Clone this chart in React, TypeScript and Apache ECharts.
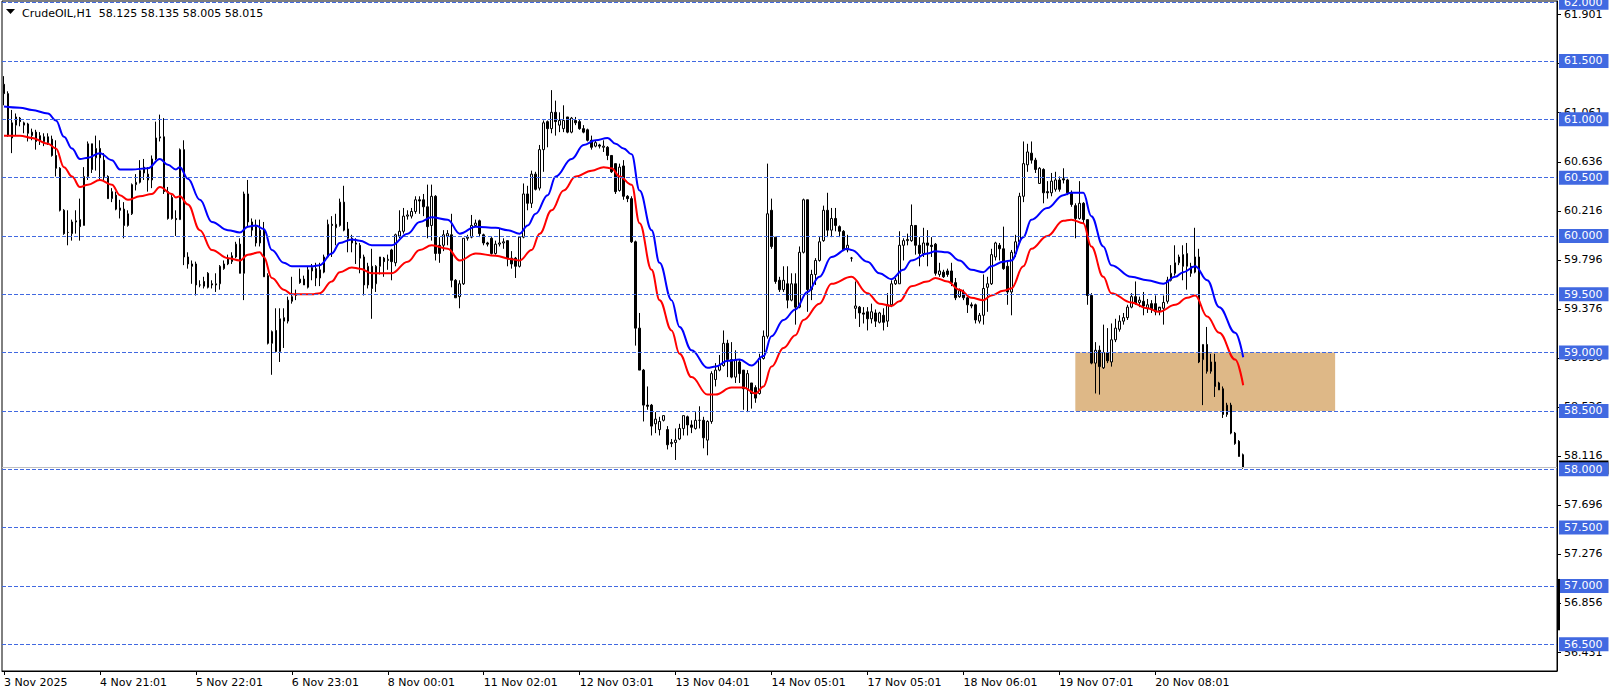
import React, { useEffect, useRef } from 'react';
import * as echarts from 'echarts';

const SYMBOL = 'CrudeOIL,H1';
const FONT = 'DejaVu Sans';
const SLOT_COUNT = 389;
const BARS_PER_LABEL = 24;

const tickLabels = [
  '3 Nov 2025', '4 Nov 21:01', '5 Nov 22:01', '6 Nov 23:01', '8 Nov 00:01', '11 Nov 02:01',
  '12 Nov 03:01', '13 Nov 04:01', '14 Nov 05:01', '17 Nov 05:01', '18 Nov 06:01', '19 Nov 07:01', '20 Nov 08:01',
];

// [open, high, low, close]
const bars: number[][] = [
  [61.30, 61.37, 61.12, 61.22], [61.22, 61.24, 60.85, 60.86], [60.84, 61.08, 60.71, 60.97], [60.95, 61.05, 60.86, 61.02], [61.01, 61.02, 60.94, 60.98],
  [60.95, 60.98, 60.88, 60.97], [60.96, 60.97, 60.81, 60.88], [60.86, 60.92, 60.82, 60.89], [60.89, 60.91, 60.74, 60.81], [60.82, 60.89, 60.78, 60.86],
  [60.85, 60.88, 60.77, 60.81], [60.85, 60.88, 60.78, 60.80], [60.83, 60.86, 60.68, 60.69], [60.69, 60.82, 60.51, 60.58], [60.58, 60.59, 60.21, 60.22],
  [60.22, 60.23, 60.01, 60.02], [60.03, 60.22, 59.92, 60.03], [60.02, 60.14, 59.96, 60.12], [60.12, 60.22, 60.02, 60.13], [60.14, 60.32, 59.96, 60.08],
  [60.09, 60.59, 60.09, 60.51], [60.51, 60.81, 60.48, 60.79], [60.79, 60.79, 60.54, 60.57], [60.67, 60.86, 60.56, 60.75], [60.75, 60.82, 60.48, 60.67],
  [60.65, 60.71, 60.48, 60.51], [60.51, 60.52, 60.32, 60.32], [60.32, 60.41, 60.29, 60.38], [60.35, 60.38, 60.22, 60.23], [60.24, 60.31, 60.15, 60.22],
  [60.23, 60.29, 59.98, 60.09], [60.09, 60.22, 60.08, 60.19], [60.19, 60.45, 60.18, 60.44], [60.44, 60.53, 60.39, 60.46], [60.46, 60.65, 60.45, 60.56],
  [60.59, 60.66, 60.48, 60.54], [60.53, 60.59, 60.38, 60.48], [60.48, 60.69, 60.41, 60.66], [60.66, 60.98, 60.65, 60.84], [60.84, 61.04, 60.81, 60.85],
  [60.85, 61.01, 60.36, 60.38], [60.38, 60.42, 60.14, 60.15], [60.33, 60.35, 60.14, 60.15], [60.15, 60.22, 60.00, 60.14], [60.14, 60.75, 60.14, 60.74],
  [60.74, 60.82, 59.75, 59.82], [59.82, 59.86, 59.72, 59.76], [59.76, 59.79, 59.59, 59.74], [59.76, 59.78, 59.49, 59.58], [59.58, 59.62, 59.56, 59.58],
  [59.61, 59.65, 59.55, 59.57], [59.68, 59.69, 59.55, 59.56], [59.59, 59.62, 59.55, 59.58], [59.58, 59.68, 59.52, 59.59], [59.59, 59.75, 59.54, 59.74],
  [59.72, 59.79, 59.71, 59.76], [59.76, 59.84, 59.75, 59.81], [59.78, 59.86, 59.76, 59.83], [59.82, 59.95, 59.81, 59.93], [59.93, 59.98, 59.68, 59.68],
  [59.68, 60.38, 59.45, 60.36], [60.36, 60.48, 60.08, 60.12], [60.12, 60.15, 59.99, 60.05], [60.08, 60.14, 59.91, 59.94], [59.94, 60.14, 59.91, 60.05],
  [60.05, 60.12, 59.65, 59.65], [59.66, 59.68, 59.07, 59.08], [59.08, 59.19, 58.81, 59.18], [59.19, 59.38, 59.00, 59.01], [59.01, 59.38, 58.92, 59.29],
  [59.27, 59.38, 59.04, 59.30], [59.27, 59.48, 59.25, 59.45], [59.44, 59.65, 59.42, 59.48], [59.49, 59.54, 59.45, 59.50], [59.63, 59.72, 59.59, 59.60],
  [59.63, 59.66, 59.59, 59.58], [59.56, 59.74, 59.55, 59.71], [59.70, 59.76, 59.62, 59.73], [59.72, 59.77, 59.57, 59.64], [59.64, 59.77, 59.57, 59.71],
  [59.69, 59.84, 59.68, 59.82], [59.82, 60.14, 59.81, 60.10], [60.10, 60.17, 59.82, 60.09], [60.07, 60.19, 59.92, 60.10], [60.09, 60.32, 60.08, 60.29],
  [60.29, 60.43, 60.04, 60.05], [60.06, 60.12, 59.86, 59.98], [59.98, 60.01, 59.86, 59.94], [59.94, 59.98, 59.76, 59.93], [59.92, 59.94, 59.68, 59.81],
  [59.82, 59.84, 59.49, 59.58], [59.58, 59.77, 59.55, 59.74], [59.74, 59.89, 59.29, 59.55], [59.59, 59.75, 59.52, 59.74], [59.74, 59.82, 59.67, 59.82],
  [59.81, 59.82, 59.65, 59.78], [59.79, 59.84, 59.71, 59.80], [59.88, 59.89, 59.62, 59.78], [59.77, 60.02, 59.74, 60.01], [60.00, 60.22, 59.98, 60.04],
  [60.04, 60.24, 60.02, 60.17], [60.17, 60.22, 60.14, 60.18], [60.17, 60.24, 60.15, 60.21], [60.21, 60.34, 60.19, 60.31], [60.31, 60.34, 60.19, 60.30],
  [60.31, 60.36, 60.17, 60.25], [60.25, 60.44, 59.98, 60.08], [60.09, 60.44, 59.96, 60.34], [60.34, 60.35, 59.79, 59.85], [59.92, 59.99, 59.77, 59.85],
  [59.92, 60.05, 59.87, 60.01], [60.00, 60.05, 59.92, 60.02], [60.01, 60.19, 59.56, 59.62], [59.62, 59.63, 59.47, 59.47], [59.48, 59.62, 59.38, 59.59],
  [59.59, 59.98, 59.58, 59.98], [59.98, 60.01, 59.96, 59.99], [59.99, 60.18, 59.98, 60.09], [60.09, 60.14, 60.08, 60.11], [60.13, 60.14, 59.99, 60.02],
  [60.01, 60.02, 59.92, 59.94], [59.94, 59.95, 59.91, 59.93], [59.98, 59.99, 59.84, 59.85], [59.85, 59.96, 59.84, 59.93], [59.93, 60.06, 59.91, 59.94],
  [59.94, 59.98, 59.89, 59.95], [59.96, 59.96, 59.74, 59.81], [59.81, 59.87, 59.72, 59.76], [59.81, 59.82, 59.64, 59.74], [59.74, 60.00, 59.73, 59.99],
  [59.99, 60.45, 59.98, 60.36], [60.36, 60.43, 60.22, 60.28], [60.28, 60.56, 60.24, 60.53], [60.53, 60.55, 60.39, 60.40], [60.41, 60.78, 60.39, 60.74],
  [60.74, 60.99, 60.55, 60.97], [60.98, 60.99, 60.76, 60.92], [60.92, 61.25, 60.88, 61.06], [61.06, 61.16, 60.86, 60.98], [60.95, 61.06, 60.89, 60.99],
  [60.92, 61.12, 60.89, 60.99], [61.02, 61.02, 60.88, 60.89], [60.89, 61.02, 60.88, 61.01], [60.99, 61.02, 60.95, 60.97], [60.98, 61.00, 60.91, 60.92],
  [60.92, 60.95, 60.88, 60.89], [60.91, 60.92, 60.81, 60.82], [60.82, 60.86, 60.74, 60.76], [60.77, 60.82, 60.76, 60.80], [60.78, 60.79, 60.75, 60.77],
  [60.76, 60.82, 60.72, 60.77], [60.76, 60.77, 60.65, 60.69], [60.69, 60.69, 60.54, 60.55], [60.62, 60.62, 60.36, 60.38], [60.39, 60.62, 60.38, 60.59],
  [60.60, 60.65, 60.31, 60.34], [60.34, 60.35, 60.29, 60.32], [60.32, 60.34, 59.94, 59.95], [59.95, 59.96, 59.06, 59.21], [59.21, 59.34, 58.85, 58.85],
  [58.85, 58.86, 58.41, 58.55], [58.55, 58.71, 58.51, 58.54], [58.55, 58.56, 58.29, 58.37], [58.39, 58.49, 58.31, 58.43], [58.34, 58.45, 58.29, 58.41],
  [58.42, 58.46, 58.41, 58.46], [58.34, 58.37, 58.17, 58.21], [58.22, 58.26, 58.19, 58.23], [58.23, 58.35, 58.08, 58.25], [58.26, 58.39, 58.25, 58.35],
  [58.35, 58.46, 58.29, 58.46], [58.45, 58.46, 58.29, 58.38], [58.38, 58.42, 58.31, 58.36], [58.35, 58.49, 58.34, 58.42], [58.42, 58.54, 58.35, 58.42],
  [58.42, 58.45, 58.18, 58.27], [58.25, 58.42, 58.12, 58.41], [58.41, 58.84, 58.39, 58.82], [58.77, 58.91, 58.71, 58.85], [58.85, 58.98, 58.84, 58.89],
  [58.89, 59.19, 58.88, 59.08], [59.08, 59.11, 58.79, 58.94], [58.94, 59.09, 58.78, 58.79], [58.79, 59.02, 58.74, 58.94], [58.92, 58.94, 58.74, 58.82],
  [58.85, 58.85, 58.51, 58.69], [58.69, 58.85, 58.49, 58.82], [58.74, 58.74, 58.52, 58.65], [58.70, 58.72, 58.57, 58.61], [58.65, 58.99, 58.64, 58.95],
  [58.95, 59.19, 58.94, 59.14], [59.14, 60.62, 59.12, 60.19], [60.22, 60.32, 59.89, 59.91], [59.99, 59.99, 59.59, 59.61], [59.62, 59.65, 59.52, 59.54],
  [59.54, 59.74, 59.52, 59.62], [59.59, 59.74, 59.38, 59.45], [59.45, 59.68, 59.44, 59.59], [59.59, 59.68, 59.24, 59.39], [59.39, 59.91, 59.38, 59.86],
  [59.86, 60.32, 59.85, 60.31], [60.31, 60.31, 59.35, 59.54], [59.54, 59.71, 59.45, 59.67], [59.67, 59.81, 59.58, 59.79], [59.79, 59.99, 59.78, 59.95],
  [59.96, 60.26, 59.95, 60.22], [60.22, 60.37, 59.99, 60.05], [60.05, 60.24, 59.99, 60.15], [60.15, 60.24, 60.04, 60.09], [60.08, 60.09, 59.99, 60.04],
  [60.04, 60.05, 59.87, 59.88], [59.88, 60.01, 59.86, 59.92], [59.81, 59.82, 59.78, 59.81], [59.38, 59.61, 59.29, 59.40], [59.39, 59.40, 59.22, 59.34],
  [59.34, 59.39, 59.25, 59.33], [59.35, 59.39, 59.19, 59.29], [59.29, 59.42, 59.25, 59.35], [59.34, 59.37, 59.22, 59.27], [59.26, 59.35, 59.25, 59.34],
  [59.32, 59.38, 59.19, 59.26], [59.27, 59.51, 59.22, 59.41], [59.41, 59.62, 59.39, 59.59], [59.59, 59.64, 59.58, 59.62], [59.59, 60.04, 59.59, 59.92],
  [59.92, 59.98, 59.79, 59.96], [59.96, 60.02, 59.92, 59.97], [59.96, 60.27, 59.95, 60.09], [60.09, 60.09, 59.84, 59.92], [59.92, 59.99, 59.74, 59.85],
  [59.85, 60.07, 59.82, 59.94], [59.94, 60.05, 59.74, 59.92], [59.92, 59.99, 59.82, 59.91], [59.93, 59.94, 59.66, 59.68], [59.67, 59.77, 59.65, 59.70],
  [59.69, 59.71, 59.64, 59.65], [59.70, 59.72, 59.65, 59.67], [59.70, 59.77, 59.57, 59.60], [59.60, 59.64, 59.45, 59.47], [59.48, 59.55, 59.47, 59.53],
  [59.52, 59.54, 59.45, 59.47], [59.47, 59.48, 59.34, 59.41], [59.41, 59.43, 59.38, 59.40], [59.41, 59.42, 59.25, 59.28], [59.27, 59.34, 59.25, 59.32],
  [59.32, 59.67, 59.24, 59.55], [59.56, 59.65, 59.35, 59.59], [59.59, 59.89, 59.58, 59.84], [59.82, 59.95, 59.79, 59.94], [59.92, 59.94, 59.79, 59.89],
  [59.89, 60.08, 59.71, 59.72], [59.74, 59.78, 59.41, 59.52], [59.52, 59.88, 59.32, 59.86], [59.85, 60.01, 59.82, 59.95], [59.95, 60.37, 59.94, 60.34],
  [60.34, 60.81, 60.29, 60.62], [60.61, 60.79, 60.55, 60.72], [60.71, 60.81, 60.62, 60.65], [60.65, 60.67, 60.54, 60.57], [60.45, 60.59, 60.45, 60.58],
  [60.57, 60.58, 60.28, 60.37], [60.38, 60.47, 60.32, 60.37], [60.37, 60.54, 60.34, 60.47], [60.40, 60.55, 60.38, 60.48], [60.48, 60.51, 60.38, 60.40],
  [60.49, 60.58, 60.45, 60.48], [60.48, 60.49, 60.35, 60.37], [60.37, 60.39, 60.25, 60.27], [60.26, 60.28, 59.98, 60.15], [60.15, 60.47, 60.14, 60.28],
  [60.28, 60.29, 60.11, 60.14], [60.14, 60.14, 59.41, 59.49], [59.49, 59.51, 58.90, 58.91], [58.91, 59.09, 58.65, 59.02], [59.02, 59.06, 58.64, 58.88],
  [58.87, 59.24, 58.86, 59.00], [59.00, 59.21, 58.91, 58.93], [58.92, 59.25, 58.88, 59.11], [59.11, 59.29, 59.09, 59.21], [59.20, 59.32, 59.18, 59.27],
  [59.27, 59.34, 59.24, 59.30], [59.30, 59.41, 59.28, 59.39], [59.39, 59.51, 59.38, 59.48], [59.48, 59.61, 59.41, 59.42], [59.43, 59.48, 59.39, 59.45],
  [59.44, 59.52, 59.32, 59.40], [59.38, 59.46, 59.34, 59.41], [59.42, 59.45, 59.34, 59.37], [59.42, 59.49, 59.32, 59.35], [59.36, 59.38, 59.32, 59.39],
  [59.38, 59.49, 59.24, 59.43], [59.44, 59.65, 59.42, 59.62], [59.62, 59.75, 59.61, 59.68], [59.68, 59.92, 59.66, 59.77], [59.77, 59.84, 59.75, 59.82],
  [59.84, 59.92, 59.62, 59.74], [59.74, 59.94, 59.54, 59.85], [59.74, 59.77, 59.65, 59.68], [59.69, 60.07, 59.68, 59.82], [59.82, 59.89, 58.91, 58.92],
  [58.94, 59.07, 58.55, 59.07], [59.07, 59.22, 58.82, 58.84], [58.84, 58.99, 58.82, 58.92], [58.92, 58.99, 58.62, 58.71], [58.68, 58.75, 58.68, 58.74],
  [58.69, 58.71, 58.44, 58.47], [58.47, 58.57, 58.45, 58.55], [58.55, 58.57, 58.30, 58.31], [58.31, 58.32, 58.21, 58.22], [58.24, 58.25, 58.11, 58.11],
  [58.125, 58.135, 58.005, 58.015],
];

// [bar index, value]
const blueMA: number[][] = [
  [0, 61.11], [4, 61.10], [7, 61.08], [11, 61.05], [13, 60.99], [15, 60.85], [17, 60.75], [19, 60.66], [21, 60.67], [24, 60.71],
  [27, 60.65], [29, 60.57], [32, 60.57], [36, 60.58], [39, 60.66], [41, 60.61], [43, 60.57], [44, 60.59], [46, 60.49], [49, 60.31],
  [52, 60.12], [56, 60.05], [59, 60.03], [61, 60.08], [63, 60.09], [65, 60.06], [67, 59.88], [70, 59.77], [72, 59.74], [77, 59.74],
  [79, 59.75], [82, 59.85], [84, 59.94], [87, 59.97], [89, 59.96], [92, 59.92], [97, 59.92], [101, 60.02], [104, 60.12], [107, 60.16],
  [111, 60.14], [114, 60.02], [118, 60.08], [123, 60.07], [126, 60.05], [129, 60.02], [131, 60.09], [133, 60.19], [136, 60.35], [138, 60.51],
  [142, 60.66], [145, 60.78], [148, 60.82], [151, 60.84], [153, 60.79], [155, 60.75], [157, 60.70], [159, 60.39], [162, 60.05], [164, 59.77],
  [167, 59.45], [169, 59.22], [172, 59.02], [176, 58.87], [178, 58.88], [181, 58.93], [184, 58.94], [187, 58.89], [190, 58.97], [192, 59.14],
  [195, 59.28], [198, 59.37], [201, 59.52], [204, 59.65], [207, 59.82], [211, 59.89], [212, 59.88], [216, 59.78], [219, 59.68], [222, 59.63],
  [225, 59.71], [227, 59.79], [231, 59.85], [233, 59.87], [236, 59.86], [239, 59.79], [242, 59.71], [245, 59.69], [247, 59.74], [250, 59.78],
  [252, 59.79], [255, 59.99], [257, 60.14], [261, 60.24], [265, 60.35], [267, 60.37], [270, 60.37], [272, 60.17], [275, 59.91], [277, 59.75],
  [282, 59.65], [286, 59.62], [290, 59.59], [293, 59.65], [295, 59.69], [298, 59.74], [301, 59.62], [304, 59.39], [308, 59.17], [310, 58.96],
];

const redMA: number[][] = [
  [0, 60.86], [4, 60.86], [7, 60.84], [11, 60.79], [13, 60.75], [15, 60.59], [17, 60.51], [19, 60.42], [21, 60.44], [24, 60.48],
  [27, 60.44], [29, 60.35], [31, 60.31], [34, 60.34], [37, 60.36], [39, 60.42], [42, 60.36], [43, 60.33], [44, 60.34], [46, 60.27],
  [49, 60.05], [52, 59.88], [56, 59.81], [59, 59.79], [61, 59.84], [64, 59.86], [65, 59.82], [67, 59.64], [70, 59.54], [72, 59.50],
  [77, 59.50], [79, 59.51], [82, 59.61], [84, 59.69], [87, 59.73], [89, 59.72], [92, 59.68], [97, 59.68], [101, 59.78], [104, 59.88],
  [107, 59.92], [111, 59.89], [114, 59.79], [118, 59.85], [123, 59.83], [127, 59.80], [129, 59.79], [132, 59.88], [134, 60.02], [137, 60.22],
  [140, 60.39], [143, 60.51], [147, 60.56], [150, 60.59], [152, 60.58], [154, 60.51], [157, 60.44], [159, 60.11], [162, 59.71], [164, 59.45],
  [167, 59.19], [169, 58.99], [172, 58.79], [176, 58.64], [178, 58.64], [182, 58.70], [185, 58.70], [188, 58.65], [190, 58.71], [192, 58.88],
  [195, 59.04], [198, 59.15], [200, 59.28], [204, 59.42], [207, 59.59], [212, 59.65], [216, 59.51], [219, 59.42], [222, 59.40], [224, 59.44],
  [227, 59.57], [231, 59.61], [233, 59.64], [236, 59.61], [239, 59.54], [242, 59.47], [245, 59.45], [247, 59.49], [250, 59.53], [252, 59.55],
  [255, 59.74], [257, 59.89], [261, 60.00], [265, 60.13], [267, 60.14], [270, 60.11], [272, 59.91], [275, 59.65], [277, 59.51], [282, 59.43],
  [286, 59.38], [289, 59.35], [293, 59.41], [296, 59.47], [298, 59.49], [301, 59.31], [304, 59.17], [308, 58.94], [310, 58.72],
];

const levels = [62.0, 61.5, 61.0, 60.5, 60.0, 59.5, 59.0, 58.5, 58.0, 57.5, 57.0, 56.5];
const scaleLabels = [61.901, 61.481, 61.061, 60.636, 60.216, 59.796, 59.376, 58.956, 58.536, 58.116, 57.696, 57.276, 56.856, 56.431];
const zone = { fromBar: 268, toBar: 333, top: 59.0, bottom: 58.5 };
const axisMarker = { top: 57.06, bottom: 56.62 };
const Y_MIN = 56.271;
const Y_MAX = 62.014;

const LEVEL_BLUE = '#4169E1';

export default function App() {
  const ref = useRef<HTMLDivElement>(null);

  useEffect(() => {
    document.body.style.margin = '0';
    if (!ref.current) return;
    const chart = echarts.init(ref.current, undefined, { renderer: 'svg' });
    const cats = Array.from({ length: SLOT_COUNT }, (_, i) => String(i));
    const showAt = (index: number) => index % BARS_PER_LABEL === 0 && index / BARS_PER_LABEL < tickLabels.length;
    const last = bars[bars.length - 1];
    const fmt = (v: number) => v.toFixed(3);

    const baseY = {
      type: 'value',
      min: Y_MIN,
      max: Y_MAX,
      position: 'right',
      scale: true,
      splitLine: { show: false },
    };

    chart.setOption({
      animation: false,
      textStyle: { fontFamily: FONT },
      grid: { left: 2, right: 57, top: 1, bottom: 24, show: true, borderColor: '#000', borderWidth: 1, containLabel: false, outerBoundsMode: 'none' },
      xAxis: {
        type: 'category',
        data: cats,
        boundaryGap: true,
        axisLine: { show: true, lineStyle: { color: '#000' } },
        axisTick: { show: true, alignWithLabel: true, interval: (i: number) => showAt(i), length: 4, lineStyle: { color: '#000' } },
        axisLabel: {
          interval: (i: number) => showAt(i),
          formatter: (_v: string, i: number) => tickLabels[i / BARS_PER_LABEL] ?? '',
          align: 'left',
          margin: 6,
          color: '#000',
          fontSize: 11,
          fontFamily: FONT,
        },
        splitLine: { show: false },
      },
      yAxis: [
        {
          ...baseY,
          z: 3,
          axisLine: { show: true, lineStyle: { color: '#000' } },
          axisTick: { show: true, customValues: scaleLabels, length: 4, lineStyle: { color: '#000' } },
          axisLabel: { customValues: scaleLabels, formatter: fmt, margin: 7, color: '#000', fontSize: 11, fontFamily: FONT },
        },
        {
          ...baseY,
          z: 4,
          axisLine: { show: false },
          axisTick: { show: false },
          axisLabel: {
            customValues: [last[3]], formatter: fmt, margin: 2, color: '#fff', fontSize: 11, fontFamily: FONT,
            backgroundColor: '#000', padding: [2, 6, 1, 5], lineHeight: 11,
          },
        },
        {
          ...baseY,
          z: 5,
          axisLine: { show: false },
          axisTick: { show: false },
          axisLabel: {
            customValues: levels, formatter: fmt, margin: 2, color: '#fff', fontSize: 11, fontFamily: FONT,
            backgroundColor: LEVEL_BLUE, padding: [2, 6, 1, 5], lineHeight: 11,
          },
        },
      ],
      series: [
        {
          type: 'candlestick',
          z: 2,
          barWidth: 2,
          data: bars.map(([o, h, l, c]) => [o, c, l, h]),
          itemStyle: { color: '#ffffff', color0: '#000000', borderColor: '#000000', borderColor0: '#000000', borderWidth: 1 },
          markArea: {
            silent: true,
            itemStyle: { color: '#DEB887', opacity: 1 },
            data: [[{ xAxis: zone.fromBar, yAxis: zone.top }, { xAxis: zone.toBar, yAxis: zone.bottom }]],
          },
          markLine: {
            silent: true,
            symbol: ['none', 'none'],
            label: { show: false },
            lineStyle: { type: [4, 2], color: LEVEL_BLUE, width: 1 },
            data: [
              { yAxis: last[3], lineStyle: { type: 'solid', color: '#C0C0C0', width: 1 } },
              ...levels.map((v) => ({ yAxis: v })),
            ],
          },
        },
        {
          type: 'line',
          z: 3,
          data: blueMA,
          smooth: 0.4,
          smoothMonotone: 'x',
          showSymbol: false,
          lineStyle: { color: '#0000FF', width: 2 },
          itemStyle: { color: '#0000FF' },
        },
        {
          type: 'line',
          z: 3,
          data: redMA,
          smooth: 0.4,
          smoothMonotone: 'x',
          showSymbol: false,
          lineStyle: { color: '#FF0000', width: 2 },
          itemStyle: { color: '#FF0000' },
        },
      ],
    });

    const gridRight = 1614 - 57;
    const mTop = chart.convertToPixel({ yAxisIndex: 0 }, axisMarker.top) as number;
    const mBot = chart.convertToPixel({ yAxisIndex: 0 }, axisMarker.bottom) as number;

    chart.setOption({
      graphic: [
        { type: 'polygon', shape: { points: [[6, 9], [15, 9], [10.5, 14]] }, style: { fill: '#000' } },
        {
          type: 'text', x: 22, y: 13,
          style: {
            text: `${SYMBOL}  ${last.map((v) => v.toFixed(3)).join(' ')}`,
            fill: '#000', font: `11px "${FONT}"`, textVerticalAlign: 'middle', verticalAlign: 'middle',
          },
        },
        { type: 'rect', shape: { x: gridRight, y: mTop, width: 3, height: mBot - mTop }, style: { fill: '#000' }, z: 10 },
      ],
    });

    return () => chart.dispose();
  }, []);

  return <div ref={ref} style={{ width: 1614, height: 695 }} />;
}
